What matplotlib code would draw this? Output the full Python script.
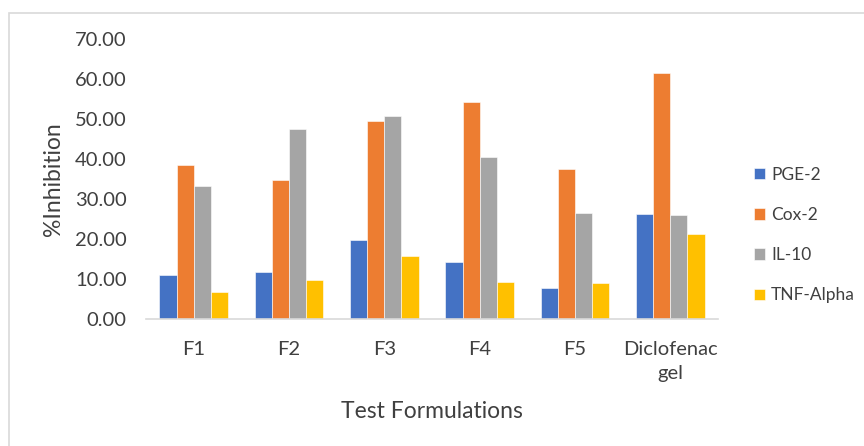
import matplotlib.pyplot as plt
import numpy as np
from matplotlib.patches import Rectangle

plt.rcParams['font.family'] = ['Lato', 'DejaVu Sans']

# values
categories = ["F1", "F2", "F3", "F4", "F5", "Diclofenac\ngel"]
pge2 = [11.0, 11.75, 19.75, 14.25, 7.7, 26.25]
cox2 = [38.5, 34.8, 49.5, 54.2, 37.5, 61.4]
il10 = [33.25, 47.5, 50.75, 40.4, 26.6, 25.9]
tnf_alpha = [6.7, 9.75, 15.75, 9.3, 9.0, 21.25]

series_names = ["PGE-2", "Cox-2", "IL-10", "TNF-Alpha"]
colors = ["#4472C4", "#ED7D31", "#A5A5A5", "#FFC000"]
text_col = "#404040"

fig = plt.figure(figsize=(8.64, 4.46), dpi=100)
ax = fig.add_axes([0.169, 0.2848, 0.662, 0.6278])

# light border round the chart area, like the Excel frame
fig.patches.append(Rectangle((9 / 864, -0.05), 1.0, 1 - 13 / 446 + 0.05,
                             transform=fig.transFigure, fill=False,
                             edgecolor="#D9D9D9", linewidth=1.2))

x = np.arange(len(categories))
width = 0.18
all_series = [pge2, cox2, il10, tnf_alpha]
for i, (vals, name, c) in enumerate(zip(all_series, series_names, colors)):
    ax.bar(x + (i - 1.5) * width, vals, width, color=c, label=name,
           edgecolor="white", linewidth=0.4)

ax.set_xlim(-0.5, len(categories) - 0.5)
ax.set_ylim(0, 70)
ax.set_yticks(np.arange(0, 71, 10))
ax.set_yticklabels([f"{v:.2f}" for v in np.arange(0, 71, 10)])
ax.set_xticks(x)
ax.set_xticklabels(categories, linespacing=1.45)

for s in ["top", "right", "left"]:
    ax.spines[s].set_visible(False)
ax.spines["bottom"].set_color("#D9D9D9")
ax.spines["bottom"].set_linewidth(1.2)
ax.tick_params(axis="both", length=0, labelsize=14.5, colors=text_col)
ax.tick_params(axis="y", pad=14)
ax.tick_params(axis="x", pad=16)

ax.set_ylabel("%Inhibition", fontsize=16.5, color=text_col, labelpad=8)
ax.set_xlabel("Test Formulations", fontsize=16.5, color=text_col, labelpad=14)

leg = ax.legend(loc="center left", bbox_to_anchor=(1.05, 0.30), frameon=False,
                fontsize=12.5, handlelength=0.65, handleheight=0.65,
                labelspacing=1.4, handletextpad=0.35, borderaxespad=0)
for t in leg.get_texts():
    t.set_color(text_col)

fig.savefig("out.png", dpi=100)
